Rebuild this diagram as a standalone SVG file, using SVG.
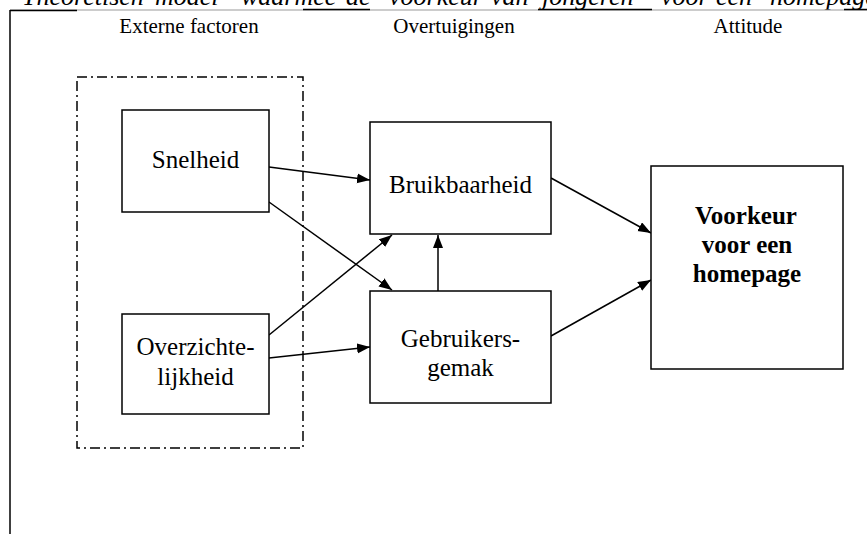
<svg xmlns="http://www.w3.org/2000/svg" width="867" height="534" viewBox="0 0 867 534">
<style>
.box{fill:#fff;stroke:#000;stroke-width:1.5}
.t{font-family:"Liberation Serif","Times New Roman",serif;font-size:25px;fill:#000;text-anchor:middle}
.b{font-weight:bold}
.h{font-family:"Liberation Serif","Times New Roman",serif;font-size:21px;fill:#000;text-anchor:middle}
.title{font-family:"Liberation Serif","Times New Roman",serif;font-size:26px;font-style:italic;fill:#000}
.c{stroke:#000;stroke-width:1.5;fill:none;marker-end:url(#ah)}
</style>
<defs>
<marker id="ah" markerUnits="userSpaceOnUse" markerWidth="14" markerHeight="11" refX="13" refY="5" orient="auto">
<path d="M0,0 L13,5 L0,10 z" fill="#000"/>
</marker>
</defs>
<rect width="867" height="534" fill="#fff"/>
<g id="title">
<text class="title" y="5"><tspan x="22">Theoretisch</tspan><tspan x="155">model</tspan><tspan x="241">waarmee</tspan><tspan x="346">de</tspan><tspan x="389">voorkeur</tspan><tspan x="491">van</tspan><tspan x="542">jongeren</tspan><tspan x="661">voor</tspan><tspan x="716">een</tspan><tspan x="770">homepage</tspan></text>
<line x1="10" y1="10" x2="867" y2="10" stroke="#999" stroke-width="1"/>
<g stroke="#000" stroke-width="1.5">
<line x1="10" y1="10.5" x2="77" y2="10.5"/>
<line x1="303" y1="9.5" x2="370" y2="9.5"/>
<line x1="538" y1="9.5" x2="652" y2="9.5"/>
<line x1="844" y1="9.5" x2="867" y2="9.5"/>
</g>
</g>
<g id="frame">
<line x1="10" y1="10" x2="10" y2="534" stroke="#000" stroke-width="1.5"/>
</g>
<g id="headers">
<text class="h" x="189" y="33">Externe factoren</text>
<text class="h" x="454" y="33">Overtuigingen</text>
<text class="h" x="748" y="33">Attitude</text>
</g>
<g id="externe-factoren-group">
<rect x="77" y="77" width="226" height="371" fill="none" stroke="#000" stroke-width="1.5" stroke-dasharray="10,4,2,4"/>
</g>
<g id="connectors">
<line class="c" x1="269" y1="167" x2="370" y2="180"/>
<line class="c" x1="269" y1="202" x2="392" y2="290"/>
<line class="c" x1="269" y1="335" x2="392" y2="235"/>
<line class="c" x1="269" y1="358" x2="370" y2="347"/>
<line class="c" x1="438" y1="291" x2="438" y2="235"/>
<line class="c" x1="551" y1="178" x2="651" y2="233"/>
<line class="c" x1="551" y1="336" x2="651" y2="280"/>
</g>
<g id="snelheid">
<rect class="box" x="122" y="110" width="147" height="102"/>
<text class="t" x="195.5" y="168">Snelheid</text>
</g>
<g id="overzichtelijkheid">
<rect class="box" x="122" y="314" width="147" height="100"/>
<text class="t" x="195.5" y="355">Overzichte-</text>
<text class="t" x="195.5" y="385">lijkheid</text>
</g>
<g id="bruikbaarheid">
<rect class="box" x="370" y="122" width="181" height="112"/>
<text class="t" x="460.5" y="193">Bruikbaarheid</text>
</g>
<g id="gebruikersgemak">
<rect class="box" x="370" y="291" width="181" height="112"/>
<text class="t" x="460.5" y="347">Gebruikers-</text>
<text class="t" x="460.5" y="376">gemak</text>
</g>
<g id="voorkeur">
<rect class="box" x="651" y="166" width="192" height="203"/>
<text class="t b" x="746" y="224">Voorkeur</text>
<text class="t b" x="747" y="253">voor een</text>
<text class="t b" x="747" y="282">homepage</text>
</g>
</svg>
